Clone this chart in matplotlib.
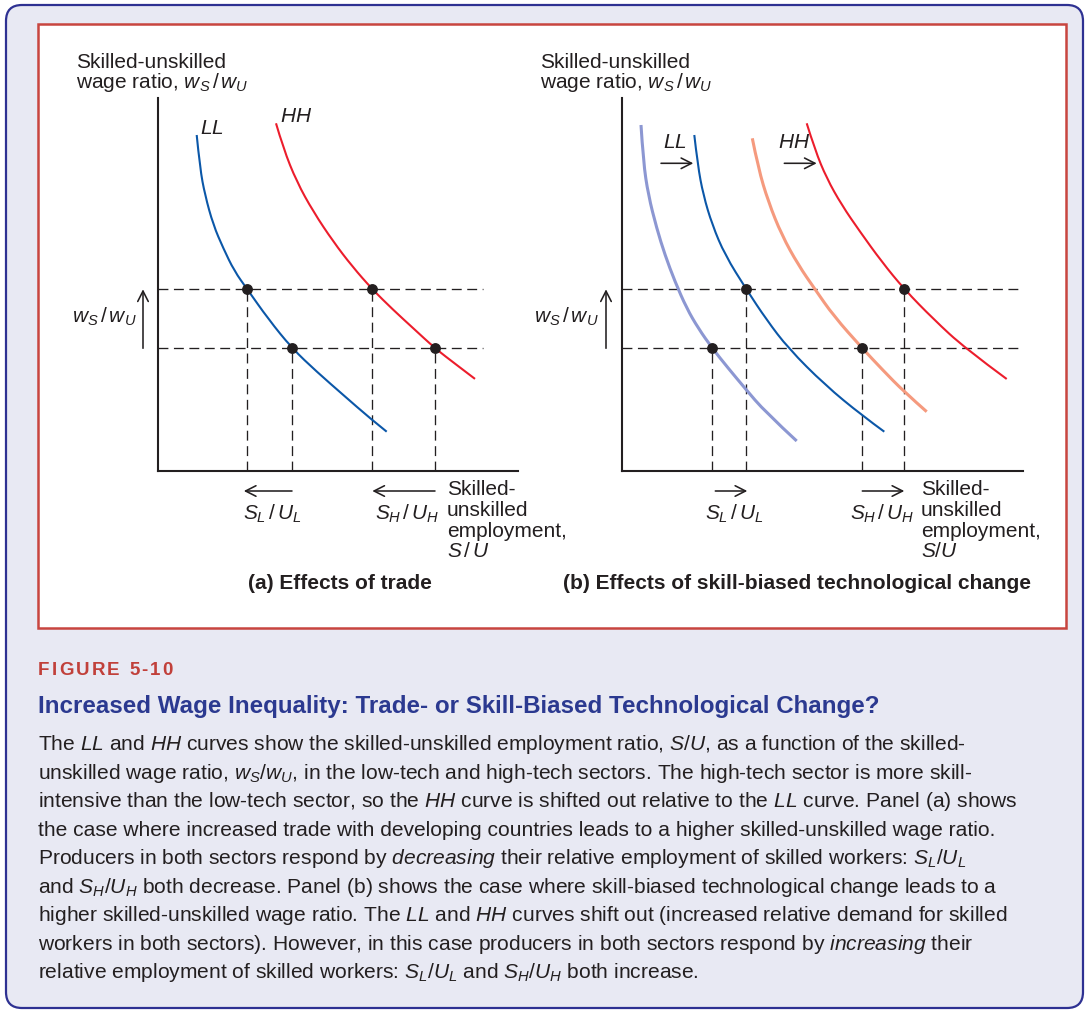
import matplotlib
matplotlib.use("Agg")
import matplotlib.pyplot as plt
from matplotlib.patches import FancyBboxPatch, Rectangle, PathPatch
from matplotlib.path import Path

plt.rcParams['font.family'] = ['Liberation Sans', 'DejaVu Sans']
plt.rcParams['mathtext.fontset'] = 'custom'
plt.rcParams['mathtext.rm'] = 'Liberation Sans'
plt.rcParams['mathtext.it'] = 'Liberation Sans:italic'
plt.rcParams['mathtext.bf'] = 'Liberation Sans:bold'

# ---------------- data (schematic units) ----------------
wage_levels = [18.17, 12.27]          # upper (after) and lower (before) w_S/w_U

# Panel (a): effects of trade
a_LL_x = [3.84, 4.17, 4.67, 5.50, 6.50, 7.60, 8.90, 11.00, 13.37, 15.84, 18.50, 21.17, 22.84]
a_LL_y = [33.60, 30.27, 27.60, 24.60, 22.27, 20.00, 18.17, 15.20, 12.27, 9.93, 7.60, 5.27, 3.93]
a_HH_x = [11.77, 12.50, 13.84, 15.50, 17.50, 19.40, 21.40, 23.50, 25.50, 27.67, 29.84, 31.67]
a_HH_y = [34.77, 32.27, 28.93, 25.93, 22.93, 20.45, 18.17, 16.10, 14.27, 12.27, 10.60, 9.21]
a_dot_x = [8.90, 21.40, 13.37, 27.67]
a_dot_y = [18.17, 18.17, 12.27, 12.27]

# Panel (b): skill-biased technological change
b_LL0_x = [1.93, 2.16, 2.66, 3.50, 4.33, 5.33, 6.50, 7.66, 9.06, 10.66, 12.33, 14.33, 17.50]
b_LL0_y = [34.60, 30.93, 27.60, 24.27, 21.60, 18.93, 16.27, 14.27, 12.27, 10.27, 8.27, 5.93, 3.00]
b_LL1_x = [7.26, 7.60, 8.16, 9.06, 10.33, 12.46, 14.50, 16.66, 20.33, 24.06, 26.26]
b_LL1_y = [33.60, 30.60, 27.60, 24.60, 21.60, 18.17, 15.10, 12.27, 8.60, 5.53, 3.93]
b_HH0_x = [13.06, 13.66, 14.66, 16.00, 17.66, 19.33, 21.20, 24.06, 26.10, 28.23, 30.50]
b_HH0_y = [33.27, 30.27, 26.93, 23.60, 20.60, 18.17, 15.50, 12.27, 10.10, 7.93, 5.93]
b_HH1_x = [18.50, 19.33, 20.50, 22.00, 23.83, 26.00, 28.26, 31.16, 34.33, 38.50]
b_HH1_y = [34.77, 32.10, 29.27, 26.60, 23.93, 20.93, 18.17, 15.20, 12.27, 9.20]
b_dot_x = [12.46, 28.26, 9.06, 24.06]
b_dot_y = [18.17, 18.17, 12.27, 12.27]

title = "Increased Wage Inequality: Trade- or Skill-Biased Technological Change?"
fig_label = "FIGURE 5-10"
body_lines = [
    r"The $LL$ and $HH$ curves show the skilled-unskilled employment ratio, $S/U$, as a function of the skilled-",
    r"unskilled wage ratio, $w_S/w_U$, in the low-tech and high-tech sectors. The high-tech sector is more skill-",
    r"intensive than the low-tech sector, so the $HH$ curve is shifted out relative to the $LL$ curve. Panel (a) shows",
    r"the case where increased trade with developing countries leads to a higher skilled-unskilled wage ratio.",
    r"Producers in both sectors respond by $\mathit{decreasing}$ their relative employment of skilled workers: $S_L/U_L$",
    r"and $S_H/U_H$ both decrease. Panel (b) shows the case where skill-biased technological change leads to a",
    r"higher skilled-unskilled wage ratio. The $LL$ and $HH$ curves shift out (increased relative demand for skilled",
    r"workers in both sectors). However, in this case producers in both sectors respond by $\mathit{increasing}$ their",
    r"relative employment of skilled workers: $S_L/U_L$ and $S_H/U_H$ both increase.",
]

# ---------------- styles ----------------
INK = '#231f20'
BLUE = '#0b57a8'
RED = '#ec1d2c'
LBLUE = '#8c97d2'
SALMON = '#f59a7e'
W, H = 1085, 1011
YMAX = 37.3
FS = 15

fig = plt.figure(figsize=(W / 100, H / 100), dpi=100)
bg = fig.add_axes([0, 0, 1, 1], zorder=0)
bg.set_xlim(0, W)
bg.set_ylim(H, 0)
bg.axis('off')

bg.add_patch(FancyBboxPatch((6, 5), 1077, 1003, boxstyle="round,pad=0,rounding_size=16",
                            fc='#e8e9f3', ec='#2e3192', lw=1.6))
bg.add_patch(Rectangle((37.5, 23.5), 1028, 604.5, fc='white', ec='#c8453f', lw=1.8))


def smooth_curve(ax, xs, ys, color, lw):
    pts = list(zip(xs, ys))
    verts = [pts[0]]
    codes = [Path.MOVETO]
    for i in range(1, len(pts) - 1):
        if i < len(pts) - 2:
            end = ((pts[i][0] + pts[i + 1][0]) / 2, (pts[i][1] + pts[i + 1][1]) / 2)
        else:
            end = pts[i + 1]
        verts += [pts[i], end]
        codes += [Path.CURVE3, Path.CURVE3]
    ax.add_patch(PathPatch(Path(verts, codes), fc='none', ec=color, lw=lw,
                           capstyle='butt', zorder=3))


def panel(left_px, right_px, xmax_dash, curves, dx, dy):
    xmax = (right_px - left_px) / 10.0
    ax = fig.add_axes([left_px / W, (H - 471) / H, (right_px - left_px) / W, (471 - 98) / H], zorder=1)
    ax.patch.set_visible(False)
    ax.set_xlim(0, xmax)
    ax.set_ylim(0, YMAX)
    for s in ['top', 'right']:
        ax.spines[s].set_visible(False)
    for s in ['left', 'bottom']:
        ax.spines[s].set_linewidth(1.5)
        ax.spines[s].set_color(INK)
    ax.set_xticks([])
    ax.set_yticks([])
    for lvl in wage_levels:
        ax.plot([0, xmax_dash], [lvl, lvl], color=INK, lw=0.95, ls=(0, (7.5, 4.2)), zorder=2)
    for x, y in zip(dx, dy):
        ax.plot([x, x], [0, y], color=INK, lw=0.95, ls=(0, (7.5, 4.2)), zorder=2)
    for xs, ys, c, lw in curves:
        smooth_curve(ax, xs, ys, c, lw)
    ax.plot(dx, dy, 'o', color=INK, ms=6.8, zorder=5)
    return ax


def arrow(ax, x0, y0, x1, y1):
    ax.annotate('', xy=(x1, y1), xytext=(x0, y0), annotation_clip=False,
                arrowprops=dict(arrowstyle='->,head_length=0.75,head_width=0.38',
                                lw=1.15, color=INK, shrinkA=0, shrinkB=0))


axa = panel(158.3, 518, 32.5,
            [(a_LL_x, a_LL_y, BLUE, 1.5), (a_HH_x, a_HH_y, RED, 1.5)], a_dot_x, a_dot_y)
axb = panel(621.7, 1023, 40.0,
            [(b_LL0_x, b_LL0_y, LBLUE, 2.2), (b_HH0_x, b_HH0_y, SALMON, 2.2),
             (b_LL1_x, b_LL1_y, BLUE, 1.5), (b_HH1_x, b_HH1_y, RED, 1.5)], b_dot_x, b_dot_y)

# vertical w_S/w_U arrows beside y axis
arrow(axa, -1.53, wage_levels[1], -1.53, wage_levels[0])
arrow(axb, -1.57, wage_levels[1], -1.57, wage_levels[0])
# horizontal arrows below x axis
arrow(axa, a_dot_x[2], -2.0, a_dot_x[0] - 0.35, -2.0)
arrow(axa, a_dot_x[3], -2.0, a_dot_x[1], -2.0)
arrow(axb, b_dot_x[2] + 0.3, -2.0, b_dot_x[0] + 0.1, -2.0)
arrow(axb, b_dot_x[3], -2.0, b_dot_x[1], -2.0)
# LL / HH shift arrows in panel b
arrow(axb, 3.93, 30.77, 7.16, 30.77)
arrow(axb, 16.26, 30.77, 19.5, 30.77)


def T(x, y, s, **kw):
    kw.setdefault('fontsize', FS)
    kw.setdefault('color', INK)
    kw.setdefault('va', 'baseline')
    return bg.text(x, y, s, **kw)


WSU = r"$w_S\,/\,w_U$"
for x0 in (76.5, 540):
    T(x0, 68.3, "Skilled-unskilled")
    T(x0, 88.3, "wage ratio, " + WSU)
T(137, 323, WSU, ha='right')
T(599, 323, WSU, ha='right')

T(200, 134, r"$LL$")
T(280, 121.7, r"$HH$")
T(663, 148.3, r"$LL$")
T(777.7, 148.3, r"$HH$")

SLUL = r"$S_L\,/\,U_L$"
SHUH = r"$S_H\,/\,U_H$"
T(272, 520, SLUL, ha='center')
T(407.5, 520, SHUH, ha='center')
T(734.5, 520, SLUL, ha='center')
T(882, 520, SHUH, ha='center')
for x0 in (447, 921):
    T(x0, 495, "Skilled-")
    T(x0, 516, "unskilled")
    T(x0, 536.7, "employment,")
    T(x0, 556.7, r"$S\,/\,U$" if x0 < 500 else r"$S/U$")

T(340, 589, "(a) Effects of trade", ha='center', fontweight='bold')
T(797, 589, "(b) Effects of skill-biased technological change", ha='center', fontweight='bold')

# ---------------- caption text ----------------
renderer = fig.canvas.get_renderer()


def width(t):
    return t.get_window_extent(renderer).width


# letter-spaced figure label
chars = []
for ch in fig_label:
    chars.append(bg.text(0, 675, ch, fontsize=13.5, fontweight='bold', color='#c1403a', va='baseline'))
ws = [width(c) for c in chars]
track = (135 - sum(ws)) / (len(chars) - 1)
xc = 38
for c, w in zip(chars, ws):
    c.set_x(xc)
    xc += w + track

tt = bg.text(38, 713.3, title, fontsize=16, fontweight='bold', color='#2b3990', va='baseline')
tt.set_fontsize(16 * 841 / width(tt))

body = []
for i, line in enumerate(body_lines):
    body.append(bg.text(38, 750 + 28.54 * i, line, fontsize=14, color=INK, va='baseline'))
widest = max(width(t) for t in body)
bfs = 14 * 985 / widest
for t in body:
    t.set_fontsize(bfs)

fig.savefig("out.png", dpi=100)
